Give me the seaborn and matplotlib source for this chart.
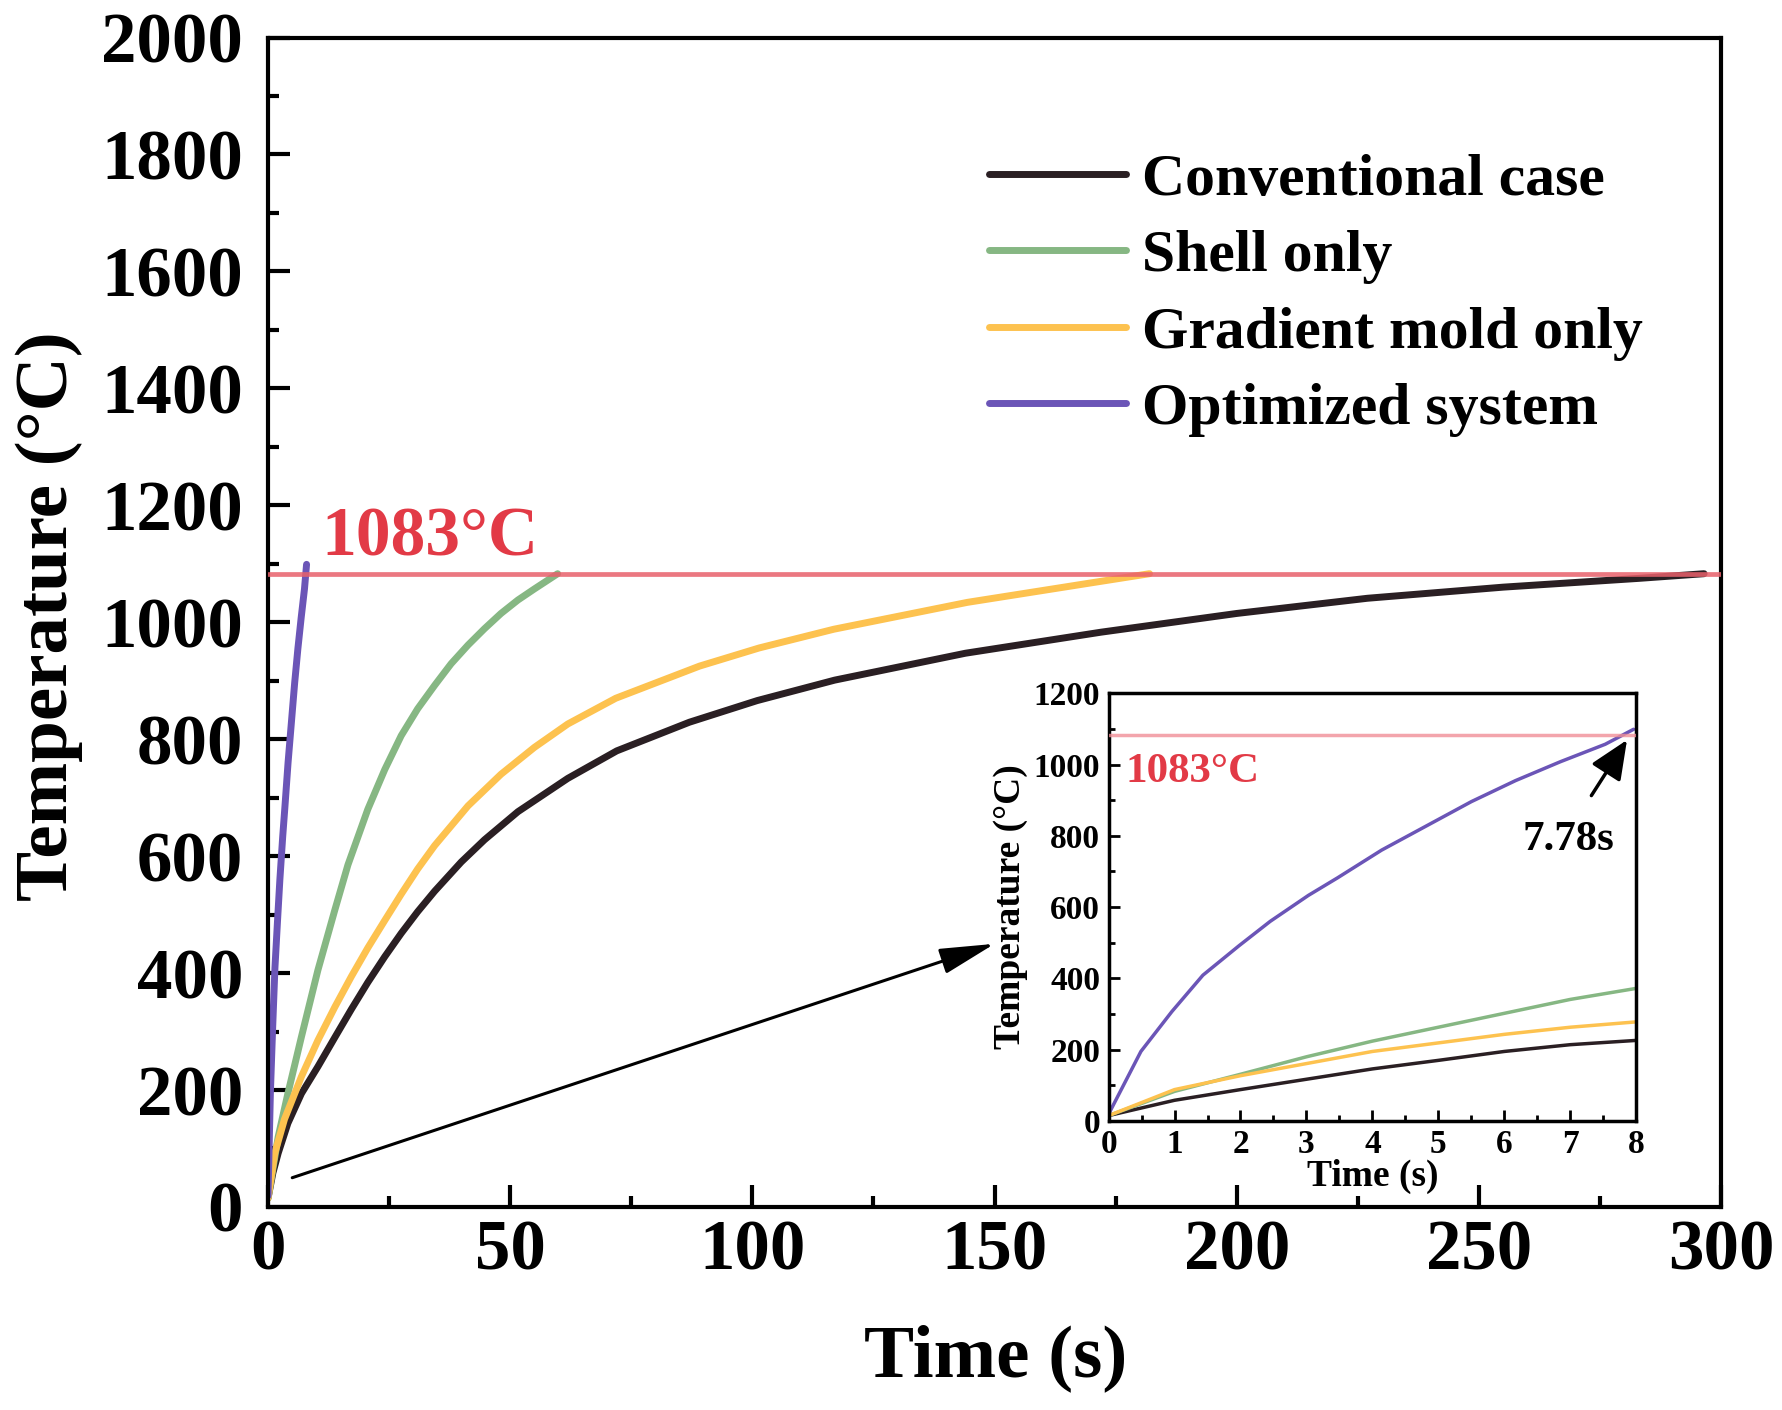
import matplotlib
matplotlib.use("Agg")
import matplotlib.pyplot as plt
from matplotlib.ticker import MultipleLocator
import pandas as pd
import seaborn as sns

# main plot data
conv_time = [0, 1, 2.1, 4.1, 6.9, 10.3, 13.8, 17.2, 20.6, 24.1, 27.5, 30.9, 34.4, 39.9,
             44.7, 51.6, 61.9, 72, 87, 101, 117, 144, 172, 200, 227, 255, 283, 296.5]
conv_temp = [15, 58, 92, 143, 194, 240, 290, 338, 384, 428, 468, 505, 540, 590,
             628, 676, 733, 780, 829, 866, 901, 947, 983, 1015, 1041, 1060, 1075, 1083]

shell_time = [0, 2.1, 4.1, 6.9, 10.3, 13.8, 16.5, 20.6, 24.1, 27.5, 30.9, 34.4,
              37.8, 41.3, 44.7, 48.1, 51.6, 55.0, 59.8]
shell_temp = [15, 120, 194, 291, 405, 508, 585, 680, 748, 806, 852, 892,
              929, 961, 989, 1015, 1038, 1057, 1083]

grad_time = [0, 1.4, 3.4, 6.9, 10.3, 13.8, 17.2, 20.6, 24.1, 27.5, 30.9, 34.4, 41.3,
             48.1, 55.0, 61.9, 71.8, 89.1, 101.4, 116.8, 144.4, 172, 182]
grad_temp = [15, 92, 150, 223, 285, 342, 394, 443, 490, 535, 578, 618, 686,
             740, 786, 826, 870, 925, 956, 988, 1034, 1070, 1083]

opt_time = [0, 0.49, 0.96, 1.43, 1.98, 2.45, 3.03, 3.47, 4.14, 4.82, 5.50, 6.17, 6.85, 7.53, 7.96]
opt_temp = [19, 195, 307, 409, 492, 560, 633, 682, 760, 828, 896, 955, 1008, 1057, 1099]

# inset data (first 8 s)
inset_time = [0, 1, 2, 3, 4, 5, 6, 7, 8]
inset_conv = [15, 58, 88, 117, 146, 170, 195, 214, 226]
inset_shell = [15, 83, 131, 180, 224, 263, 302, 341, 372]
inset_grad = [15, 88, 127, 161, 195, 219, 243, 263, 278]

melt_temp = 1083
labels = ["Conventional case", "Shell only", "Gradient mold only", "Optimized system"]
colors = ["#2a1f23", "#86b783", "#fdc24f", "#6b55b7"]

sns.set_style("white")
plt.rcParams["font.family"] = ["Liberation Serif", "DejaVu Serif"]
plt.rcParams["font.weight"] = "bold"
for key in ["text.color", "axes.labelcolor", "xtick.color", "ytick.color"]:
    plt.rcParams[key] = "black"

fig = plt.figure(figsize=(17.82, 14.10), dpi=100)
ax = fig.add_axes([0.1504, 0.1440, 0.8154, 0.8294])

main_series = [(conv_time, conv_temp), (shell_time, shell_temp),
               (grad_time, grad_temp), (opt_time, opt_temp)]
for (t, T), lab, col in zip(main_series, labels, colors):
    df = pd.DataFrame({"Time": t, "Temp": T})
    sns.lineplot(data=df, x="Time", y="Temp", ax=ax, color=col, lw=5, label=lab)

ax.axhline(melt_temp, color="#e8606b", lw=3.4, alpha=0.85, zorder=5)
ax.text(11.1, 1114, "1083\u00b0C", color="#e23a46", fontsize=50, fontweight="bold",
        ha="left", va="baseline")
ax.annotate("", xy=(150, 450), xytext=(5, 50),
            arrowprops=dict(arrowstyle="-|>,head_length=0.85,head_width=0.2",
                            color="black", lw=2.2, mutation_scale=40, shrinkA=0, shrinkB=0))

ax.set_xlim(0, 300)
ax.set_ylim(0, 2000)
ax.xaxis.set_major_locator(MultipleLocator(50))
ax.xaxis.set_minor_locator(MultipleLocator(25))
ax.yaxis.set_major_locator(MultipleLocator(200))
ax.yaxis.set_minor_locator(MultipleLocator(100))
ax.tick_params(which="both", direction="in", width=3, top=False, right=False,
               bottom=True, left=True, labelsize=51, colors="black")
ax.tick_params(which="major", length=16)
ax.tick_params(which="minor", length=8)
ax.tick_params(axis="y", which="major", pad=18)
ax.tick_params(axis="x", which="major", pad=9)
for s in ax.spines.values():
    s.set_linewidth(3)
    s.set_color("black")
ax.set_xlabel("Time (s)", fontsize=54, fontweight="bold")
ax.set_ylabel("Temperature (\u00b0C)", fontsize=54, fontweight="bold")
ax.xaxis.set_label_coords(0.501, -0.1005)
ax.yaxis.set_label_coords(-0.127, 0.505)

leg = ax.legend(loc="upper left", bbox_to_anchor=(0.4962, 0.901), frameon=False,
                fontsize=43, handlelength=2.29, handletextpad=0.27, labelspacing=0.36,
                borderaxespad=0, borderpad=0)
for line in leg.get_lines():
    line.set_linewidth(5)
for txt in leg.get_texts():
    txt.set_color("black")

# inset
ins = fig.add_axes([0.6221, 0.2050, 0.2961, 0.3033])
inset_series = [inset_conv, inset_shell, inset_grad]
for T, col in zip(inset_series, colors[:3]):
    sns.lineplot(x=inset_time, y=T, ax=ins, color=col, lw=2.5)
sns.lineplot(x=opt_time, y=opt_temp, ax=ins, color=colors[3], lw=2.5)
ins.axhline(melt_temp, color="#f08f97", lw=2.5, alpha=0.8, zorder=5)
ins.text(0.25, 950, "1083\u00b0C", color="#e23a46", fontsize=31, fontweight="bold",
         ha="left", va="baseline")
ins.text(6.27, 760, "7.78s", color="black", fontsize=31, fontweight="bold",
         ha="left", va="baseline")
ins.annotate("", xy=(7.86, 1069), xytext=(7.32, 913),
             arrowprops=dict(arrowstyle="-|>,head_length=0.8,head_width=0.35",
                             color="black", lw=2.5, mutation_scale=30, shrinkA=0, shrinkB=0))
ins.set_xlim(0, 8)
ins.set_ylim(0, 1200)
ins.xaxis.set_major_locator(MultipleLocator(1))
ins.xaxis.set_minor_locator(MultipleLocator(0.5))
ins.yaxis.set_major_locator(MultipleLocator(200))
ins.yaxis.set_minor_locator(MultipleLocator(100))
ins.tick_params(which="both", direction="in", width=2, top=False, right=False,
                bottom=True, left=True, labelsize=24, pad=6, colors="black")
ins.tick_params(which="major", length=8)
ins.tick_params(which="minor", length=4)
for s in ins.spines.values():
    s.set_linewidth(2.5)
    s.set_color("black")
ins.set_xlabel("Time (s)", fontsize=27, fontweight="bold")
ins.set_ylabel("Temperature (\u00b0C)", fontsize=27, fontweight="bold")
ins.xaxis.set_label_coords(0.5, -0.088)
ins.yaxis.set_label_coords(-0.152, 0.5)

fig.savefig("out.png", dpi=100)
